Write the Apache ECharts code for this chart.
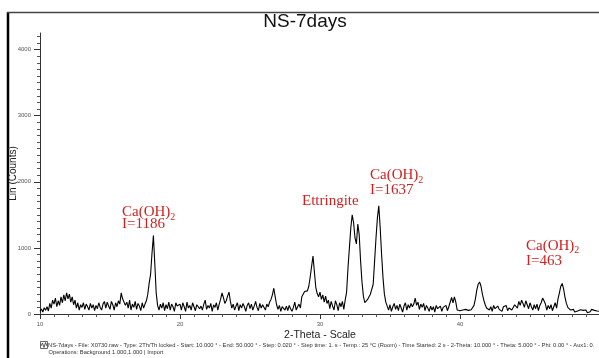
<!DOCTYPE html>
<html>
<head>
<meta charset="utf-8">
<script src="https://cdn.jsdelivr.net/npm/echarts@6/dist/echarts.min.js"></script>
<style>
  html, body { margin: 0; padding: 0; background: #ffffff; }
  #chart { width: 599px; height: 358px; }
</style>
</head>
<body>
<div id="chart"></div>
<script>
// Scan parameters (2-Theta, degrees)
const START_ANGLE = 10.0;
const STEP = 0.1;

// Lin (Counts), one value per 0.1 degree
const counts10to15 = [
  40, 75, 30, 95, 55, 110, 45, 160, 90, 210,
  150, 240, 110, 200, 130, 260, 170, 290, 200, 320,
  230, 300, 180, 260, 140, 210, 90, 170, 60, 140,
  100, 170, 70, 150, 110, 60, 160, 90, 140, 50,
  130, 80, 170, 100, 60, 150, 190, 90, 180, 120
];
const counts15to20 = [
  70, 190, 140, 60, 170, 110, 200, 150, 320, 230,
  260, 130, 180, 90, 210, 60, 150, 100, 190, 70,
  160, 120, 50, 170, 90, 150, 200, 300, 470, 600,
  920, 1186, 760, 320, 130, 60, 150, 90, 170, 50,
  140, 80, 180, 60, 150, 110, 40, 170, 120, 90
];
const counts20to25 = [
  150, 60, 170, 110, 40, 180, 90, 130, 60, 170,
  110, 50, 140, 170, 80, 120, 60, 150, 210, 70,
  130, 90, 160, 40, 140, 100, 170, 60, 150, 220,
  320, 250, 160, 200, 270, 330, 190, 90, 150, 60,
  120, 170, 50, 140, 90, 160, 110, 40, 130, 170
];
const counts25to30 = [
  80, 150, 60, 120, 190, 100, 50, 160, 90, 140,
  170, 60, 150, 110, 180, 220, 290, 390, 260, 140,
  70, 130, 40, 110, 90, 60, 120, 50, 130, 80,
  40, 100, 180, 60, 110, 150, 90, 260, 300, 340,
  310, 350, 420, 560, 720, 875, 640, 400, 310, 260
];
const counts30to35 = [
  330, 220, 290, 180, 270, 160, 210, 80, 190, 120,
  60, 200, 140, 50, 170, 110, 190, 70, 210, 330,
  700, 1000, 1300, 1500, 1380, 1150, 1060, 1360, 1200, 800,
  480, 270, 170, 150, 220, 260, 300, 330, 450, 800,
  1150, 1450, 1637, 1300, 900, 550, 300, 180, 120, 60
];
const counts35to40 = [
  140, 40, 110, 160, 70, 130, 50, 150, 90, 30,
  120, 170, 60, 140, 90, 160, 110, 150, 240, 130,
  180, 70, 150, 100, 160, 50, 130, 90, 40, 120,
  60, 110, 30, 130, 80, 50, 120, 40, 100, 70,
  130, 50, 110, 80, 250, 170, 260, 180, 60, 30
];
const counts40to45 = [
  50, 20, 60, 30, 70, 40, 55, 25, 65, 45,
  130, 230, 360, 450, 485, 420, 300, 210, 140, 90,
  120, 60, 110, 40, 130, 80, 50, 120, 70, 100,
  40, 110, 80, 130, 50, 90, 120, 60, 100, 140,
  150, 90, 190, 130, 210, 160, 100, 200, 140, 80
];
const counts45to50 = [
  170, 110, 60, 140, 80, 150, 50, 130, 170, 240,
  200, 150, 60, 130, 80, 140, 50, 110, 170, 90,
  230, 320, 420, 463, 380, 250, 160, 100, 130, 60,
  40, 70, 30, 60, 45, 25, 65, 35, 55, 30,
  60, 20, 50, 35, 70, 40, 55, 25, 45, 60,
  40
];

// Axis ticks
const xMajorTicks = [10, 20, 30, 40];
const yMajorTicks = [0, 1000, 2000, 3000, 4000];

// Phase annotations: intensity values shown next to the peaks
const peakI = { ch18: 1186, ch34: 1637, ch47: 463 };

const scan = [].concat(counts10to15, counts15to20, counts20to25, counts25to30,
                       counts30to35, counts35to40, counts40to45, counts45to50);
const pattern = scan.map((c, i) => [+(START_ANGLE + i * STEP).toFixed(2), c]);

const yMinorTicks = [];
for (let v = 100; v <= 4200; v += 100) if (v % 1000 !== 0) yMinorTicks.push(v);

const SANS = "'Liberation Sans', Arial, sans-serif";
const SERIF = "'Liberation Serif', 'Times New Roman', serif";
const RED = '#d21f1f';

function phaseLabel(x, yTop) {
  return {
    type: 'text', x: x, y: yTop, silent: true,
    style: {
      text: '{a|Ca(OH)}{s|2}',
      verticalAlign: 'top',
      rich: {
        a: { fontFamily: SERIF, fontSize: 15, lineHeight: 17, verticalAlign: 'top', fill: RED },
        s: { fontFamily: SERIF, fontSize: 10, lineHeight: 10, verticalAlign: 'bottom', fill: RED }
      }
    }
  };
}
function plainLabel(x, yMid, text) {
  return {
    type: 'text', x: x, y: yMid, silent: true,
    style: { text: text, fontFamily: SERIF, fontSize: 15, fill: RED, verticalAlign: 'middle' }
  };
}

const footer1 = 'NS-7days - File: X0730.raw - Type: 2Th/Th locked - Start: 10.000 \u00b0 - End: 50.000 \u00b0 - Step: 0.020 \u00b0 - Step time: 1. s - Temp.: 25 \u00b0C (Room) - Time Started: 2 s - 2-Theta: 10.000 \u00b0 - Theta: 5.000 \u00b0 - Phi: 0.00 \u00b0 - Aux1: 0.';
const footer2 = 'Operations: Background 1.000,1.000 | Import';

const chart = echarts.init(document.getElementById('chart'), null, { renderer: 'canvas' });

chart.setOption({
  animation: false,
  backgroundColor: '#ffffff',
  grid: { left: 40, top: 33, width: 560, height: 281, containLabel: false, outerBoundsMode: 'none' },
  xAxis: {
    type: 'value', min: 10, max: 50, interval: 10,
    name: '2-Theta - Scale', nameLocation: 'middle', nameGap: 16, nameMoveOverlap: false,
    nameTextStyle: { fontFamily: SANS, fontSize: 10.5, color: '#222', verticalAlign: 'top' },
    axisLine: { lineStyle: { color: '#333', width: 1 } },
    axisTick: { length: 5, lineStyle: { color: '#333' } },
    minorTick: { show: true, splitNumber: 10, length: 3, lineStyle: { color: '#555' } },
    axisLabel: { customValues: xMajorTicks, formatter: v => String(v), fontFamily: SANS, fontSize: 6, color: '#555', margin: 7 },
    splitLine: { show: false }
  },
  yAxis: [
    {
      type: 'value', min: 0, max: 4250, interval: 1000, position: 'left',
      name: 'Lin (Counts)', nameLocation: 'middle', nameGap: 22, nameRotate: 90, nameMoveOverlap: false,
      nameTextStyle: { fontFamily: SANS, fontSize: 10, color: '#222' },
      axisLine: { show: true, lineStyle: { color: '#333', width: 1 } },
      axisTick: { customValues: yMajorTicks, length: 6, lineStyle: { color: '#333' } },
      axisLabel: { customValues: yMajorTicks, formatter: v => String(v), fontFamily: SANS, fontSize: 6, color: '#555', margin: 9 },
      splitLine: { show: false }
    },
    {
      type: 'value', min: 0, max: 4250, interval: 1000, position: 'left',
      axisLine: { show: false },
      axisTick: { customValues: yMinorTicks, length: 3, lineStyle: { color: '#555' } },
      axisLabel: { show: false },
      splitLine: { show: false }
    }
  ],
  series: [{
    type: 'line',
    name: 'NS-7days',
    data: pattern,
    showSymbol: false,
    symbol: 'none',
    lineStyle: { color: '#000', width: 1.1 },
    clip: true
  }],
  graphic: [
    // sheet frame
    { type: 'line', silent: true, shape: { x1: 8, y1: 12, x2: 8, y2: 358 }, style: { stroke: '#000', lineWidth: 2.5 } },
    { type: 'line', silent: true, shape: { x1: 7, y1: 12.5, x2: 599, y2: 12.5 }, style: { stroke: '#444', lineWidth: 1.6 } },
    // title
    { type: 'text', x: 305, y: 22, silent: true,
      style: { text: 'NS-7days', fontFamily: SANS, fontSize: 19, fill: '#111', align: 'center', verticalAlign: 'middle' } },
    // peak annotations
    phaseLabel(122, 205),
    plainLabel(122, 224.5, 'I=' + peakI.ch18),
    plainLabel(302, 201.5, 'Ettringite'),
    phaseLabel(370, 168),
    plainLabel(370, 190, 'I=' + peakI.ch34),
    phaseLabel(526, 238.5),
    plainLabel(526, 261, 'I=' + peakI.ch47),
    // scan info footer
    { type: 'rect', silent: true, shape: { x: 40.5, y: 341.5, width: 7, height: 7 }, style: { fill: 'none', stroke: '#444', lineWidth: 0.8 } },
    { type: 'polyline', silent: true, shape: { points: [[41, 346], [42.5, 343], [44, 347.5], [45.5, 342.5], [47, 346]] }, style: { fill: 'none', stroke: '#333', lineWidth: 0.8 } },
    { type: 'text', x: 48, y: 345, silent: true,
      style: { text: footer1, fontFamily: SANS, fontSize: 5.75, fill: '#333', verticalAlign: 'middle' } },
    { type: 'text', x: 48.5, y: 352, silent: true,
      style: { text: footer2, fontFamily: SANS, fontSize: 5.75, fill: '#333', verticalAlign: 'middle' } }
  ]
});
</script>
</body>
</html>
